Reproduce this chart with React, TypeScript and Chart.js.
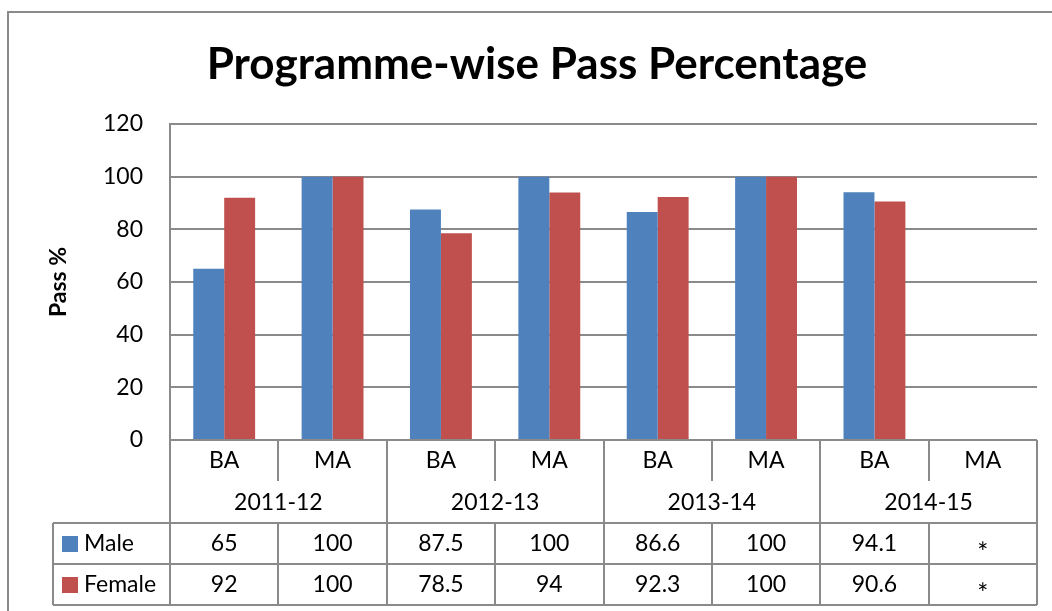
import React, { useEffect, useRef } from "react";
import { Chart, registerables } from "chart.js";

Chart.register(...registerables);

const chartTitle = "Programme-wise Pass Percentage";
const yAxisTitle = "Pass %";
const years = ["2011-12", "2012-13", "2013-14", "2014-15"];
const programmes = ["BA", "MA", "BA", "MA", "BA", "MA", "BA", "MA"];
const maleValues = [65, 100, 87.5, 100, 86.6, 100, 94.1, null];
const femaleValues = [92, 100, 78.5, 94, 92.3, 100, 90.6, null];
const maleLabels = ["65", "100", "87.5", "100", "86.6", "100", "94.1", "*"];
const femaleLabels = ["92", "100", "78.5", "94", "92.3", "100", "90.6", "*"];
const seriesNames = ["Male", "Female"];
const yMin = 0;
const yMax = 120;
const yStep = 20;

const BLUE = "#4F81BD";
const RED = "#C0504D";
const LINE = "#8a8a8a";
const FONT = "Lato";

const tablePlugin = {
  id: "excelTable",
  afterDraw(chart: any) {
    const ctx: CanvasRenderingContext2D = chart.ctx;
    const area = chart.chartArea;
    const xs = chart.scales.x;
    const n = programmes.length;
    const cw = (area.right - area.left) / n;
    const top = area.bottom;
    const r1 = top + 41; // end of programme row
    const r2 = top + 83; // end of year row
    const r3 = r2 + 41;
    const r4 = r3 + 41;
    const legendLeft = 53;

    ctx.save();
    // outer frame
    ctx.strokeStyle = LINE;
    ctx.lineWidth = 2;
    ctx.beginPath();
    ctx.moveTo(8, 611);
    ctx.lineTo(8, 12);
    ctx.lineTo(1052, 12);
    ctx.stroke();

    // title
    ctx.fillStyle = "#000";
    ctx.font = `bold 44px ${FONT}`;
    ctx.textAlign = "center";
    ctx.textBaseline = "alphabetic";
    ctx.fillText(chartTitle, 537, 79);

    // table lines
    ctx.strokeStyle = LINE;
    ctx.lineWidth = 2;
    ctx.beginPath();
    [r2, r3, r4].forEach((y) => {
      ctx.moveTo(legendLeft, y);
      ctx.lineTo(area.right, y);
    });
    ctx.moveTo(legendLeft, r2);
    ctx.lineTo(legendLeft, r4);
    for (let i = 0; i <= n; i++) {
      const x = Math.round(area.left + i * cw);
      if (i % 2 === 0) {
        ctx.moveTo(x, top);
        ctx.lineTo(x, r4);
      } else {
        ctx.moveTo(x, top);
        ctx.lineTo(x, r1);
        ctx.moveTo(x, r2);
        ctx.lineTo(x, r4);
      }
    }
    ctx.stroke();

    // text
    ctx.fillStyle = "#000";
    ctx.textAlign = "center";
    ctx.textBaseline = "alphabetic";
    const drawCell = (t: string, x: number, y: number) => {
      if (t === "*") {
        ctx.font = `26px ${FONT}`;
        ctx.fillText(t, x, y + 11);
        ctx.font = `23px ${FONT}`;
      } else {
        ctx.fillText(t, x, y);
      }
    };
    ctx.font = `23px ${FONT}`;
    for (let i = 0; i < n; i++) {
      const cx = xs.getPixelForValue(i);
      ctx.fillText(programmes[i], cx, top + 28);
      drawCell(maleLabels[i], cx, r2 + 28);
      drawCell(femaleLabels[i], cx, r3 + 28);
    }
    for (let g = 0; g < years.length; g++) {
      const cx = area.left + (g * 2 + 1) * cw;
      ctx.fillText(years[g], cx, r1 + 29);
    }
    // legend keys
    ctx.textAlign = "left";
    const colors = [BLUE, RED];
    const rowsTop = [r2, r3];
    for (let s = 0; s < 2; s++) {
      ctx.fillStyle = colors[s];
      ctx.fillRect(62, rowsTop[s] + 13, 16, 16);
      ctx.fillStyle = "#000";
      ctx.fillText(seriesNames[s], 84, rowsTop[s] + 28);
    }
    ctx.restore();
  },
};

export default function App() {
  const ref = useRef<HTMLCanvasElement | null>(null);
  useEffect(() => {
    if (!ref.current) return;
    const chart = new Chart(ref.current, {
      type: "bar",
      data: {
        labels: programmes,
        datasets: [
          {
            label: seriesNames[0],
            data: maleValues,
            backgroundColor: BLUE,
            categoryPercentage: 0.571,
            barPercentage: 1,
          },
          {
            label: seriesNames[1],
            data: femaleValues,
            backgroundColor: RED,
            categoryPercentage: 0.571,
            barPercentage: 1,
          },
        ],
      },
      options: {
        animation: false,
        responsive: false,
        devicePixelRatio: 1,
        layout: { padding: { top: 124, right: 15, bottom: 171, left: 0 } },
        plugins: {
          legend: { display: false },
          title: { display: false },
          tooltip: { enabled: false },
        },
        scales: {
          x: { display: false },
          y: {
            min: yMin,
            max: yMax,
            ticks: {
              stepSize: yStep,
              color: "#000",
              font: { family: FONT, size: 23 },
              padding: 27,
            },
            grid: { color: LINE, lineWidth: 2, drawTicks: false },
            border: { color: LINE, width: 2 },
            title: {
              display: true,
              text: yAxisTitle,
              color: "#000",
              font: { family: FONT, size: 23, weight: "bold" },
              padding: { top: 45, bottom: 0 },
            },
            afterFit: (scale: any) => {
              scale.width = 170;
            },
          },
        },
      },
      plugins: [tablePlugin],
    });
    return () => chart.destroy();
  }, []);
  return (
    <div style={{ position: "fixed", left: 0, top: 0, width: 1052, height: 611, background: "#fff" }}>
      <canvas ref={ref} width={1052} height={611} />
    </div>
  );
}
